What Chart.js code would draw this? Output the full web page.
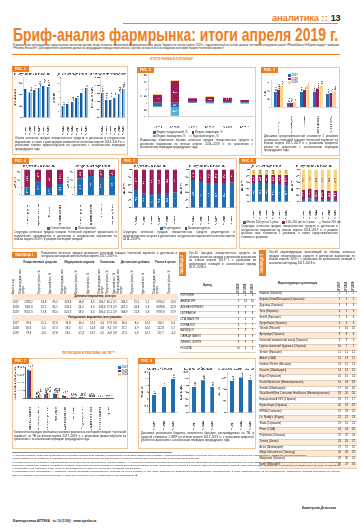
<!DOCTYPE html>
<html>
<head>
<meta charset="utf-8">
<script src="https://cdn.jsdelivr.net/npm/chart.js@4/dist/chart.umd.min.js"></script>
<style>
body{margin:0;width:360px;height:530px;position:relative;background:#fff;font-family:'Liberation Sans','DejaVu Sans',sans-serif;color:#222;overflow:hidden}
.a{position:absolute}
.box{position:absolute;border:1.2px solid #F4C59B;box-sizing:border-box;background:#fff}
.tag{position:absolute;left:-1px;top:-1px;background:#EE7D22;color:#fff;font-size:3.4px;font-weight:bold;padding:1.2px 3px;line-height:4px}
.vtag{position:absolute;background:#EE7D22;color:#fff;font-size:3.4px;font-weight:bold;writing-mode:vertical-rl;transform:rotate(180deg);text-align:center;line-height:7px}
.cap{position:absolute;font-size:2.9px;line-height:3.6px;color:#222;text-align:justify}
.cw{position:absolute}
.leg{position:absolute;font-size:2.8px;line-height:3.4px;white-space:nowrap}
.leg i{display:inline-block;width:2.6px;height:2.6px;margin:0 1px 0 3px;vertical-align:-0.3px}
table{border-collapse:collapse}
.t1 td{font-size:2.7px;line-height:5.2px;text-align:center;padding:0;white-space:nowrap}
.t1 .vh{writing-mode:vertical-rl;transform:rotate(180deg);height:29px;line-height:3px;white-space:normal;text-align:left}
.t1 .sec{background:#FCE6D3;font-weight:bold;line-height:5.6px}
.t1 .g{font-weight:bold;line-height:3.2px;white-space:normal;padding-bottom:1px}
.tr td{font-size:2.7px;line-height:4.9px;padding:0 0.5px;border-bottom:0.4px solid #e8cdb6;white-space:nowrap}
.tr td.n{text-align:center;width:6px}
.tr .vh{writing-mode:vertical-rl;transform:rotate(180deg);height:14px;line-height:6px;font-weight:bold;text-align:left}
.tr tr.alt td{background:#FCE9D8}
</style>
</head>
<body>
<script>
// ---- data ----
const fig1Years = ['IV 2014','IV 2015','IV 2016','IV 2017','IV 2018','IV 2019'];
const fig1Packs = [101.3, 88.1, 95.4, 102.2, 111.8, 106.5];
const fig1Uah = [3.4, 4.2, 4.8, 6.0, 7.4, 9.0];
const fig1Usd = [305.6, 218.4, 222.9, 248.7, 296.5, 357.4];

const fig2Years = ['IV 2014','IV 2015','IV 2016','IV 2017','IV 2018','IV 2019'];
const fig2Infl = [22.4, 62.3, 8.1, 10.2, 9.1, 4.3];
const fig2Rate = [4.1, 3.8, 1.2, 2.1, 2.0, 1.1];
const fig2Nat = [-8.2, -12.4, 4.6, 6.3, 5.8, 2.9];
const fig2Subst = [-4.1, -24.2, -1.1, -2.0, -1.8, -2.2];

const fig3Cats = ['Лекарственные средства','Медицинские изделия','Косметика','Диетические добавки','Рынок в целом'];
const fig3v2017 = [56.3, 14.8, 55.9, 57.2, 47.1];
const fig3v2018 = [64.6, 15.9, 62.0, 68.4, 51.5];
const fig3v2019 = [77.3, 18.0, 80.1, 76.5, 58.9];

const fig4Cats = ['Лекарственные средства','Медицинские изделия','Косметика','Диетические добавки'];
const fig4MoneyLocal = [30.2, 54.8, 27.6, 44.9];
const fig4PacksLocal = [64.9, 74.6, 69.8, 74.3];

const fig5Years = ['IV 2014','IV 2015','IV 2016','IV 2017','IV 2018','IV 2019'];
const fig5MoneyRx = [45.6, 36.9, 35.2, 35.8, 38.4, 40.1];
const fig5PacksRx = [72.8, 66.5, 65.1, 64.9, 65.3, 66.0];

const fig6Years = ['IV 2014','IV 2015','IV 2016','IV 2017','IV 2018','IV 2019'];
const fig6MoneyLow = [58.4, 60.2, 57.9, 56.1, 55.3, 52.6];
const fig6MoneyMid = [24.1, 22.5, 26.3, 27.4, 28.2, 30.1];
const fig6PacksLow = [9.1, 10.3, 8.7, 8.2, 7.9, 7.4];
const fig6PacksMid = [27.2, 30.4, 28.1, 27.5, 25.6, 24.8];

const fig7Cats = ['Лекарственные средства','Диетические добавки','Средства от кашля и простуды','Анальгетики','Средства для пищеварения','Витамины','Средства для кожи','Средства для горла','Кардиологические средства','Прочие'];
const fig7v2017 = [7350, 610, 1180, 1260, 780, 320, 330, 160, 90, 20];
const fig7v2018 = [7120, 820, 1340, 1190, 690, 280, 360, 190, 110, 25];
const fig7v2019 = [7600, 1050, 1420, 1310, 720, 300, 410, 150, 80, 40];

const fig8Years = ['IV 2017','IV 2018','IV 2019'];
const fig8Spend = [1.3, 1.9, 2.5];
const fig8Brands = [191, 238, 188];
const fig8Clips = [108, 121, 113];

const t1Groups = ['Лекарственные средства','Медицинские изделия','Косметика','Диетические добавки','Рынок в целом'];
const t1Sub = ['Объем продаж','Прирост/ убыль, %','Удельный вес, %'];
const t1Years = ['2017','2018','2019'];
const t1Money = [
  ['5783,2','24,8','85,5','423,8','14,8','6,3','206,7','40,1','3,1','346,5','15,1','5,1','6760,2','24,6'],
  ['7061,6','22,1','85,1','526,4','24,2','6,3','243,6','17,9','2,9','467,2','34,8','5,6','8298,8','22,8'],
  ['8317,0','17,8','85,0','621,3','18,0','6,3','280,4','15,1','2,9','568,9','21,8','5,8','9787,6','17,9']];
const t1Packs = [
  ['78,6','11,1','67,6','16,8','-16,1','14,5','4,4','17,9','3,8','16,4','8,4','14,1','116,2','6,4'],
  ['82,6','5,0','67,3','18,2','8,1','14,8','4,8','9,4','3,9','17,2','4,9','14,0','122,8','5,7'],
  ['79,8','-3,4','67,8','16,1','-11,3','13,7','4,5','-6,8','3,8','17,3','0,6','14,7','117,7','-4,2']];

const t2Brands = ['НУРОФЕН','АНАЛЬГИН','АЛЬФА НОРМИКС','ЦИТРАМОН','СПАЗМАЛГОН','КОРВАЛОЛ','ВАЛИДОЛ','ПАРАЦЕТАМОЛ','ЛИНЕКС ФОРТЕ','НО-ШПА'];
const t2r2019 = [1,2,3,4,5,6,7,8,9,10];
const t2r2018 = [1,14,5,8,2,7,3,6,9,4];
const t2r2017 = [3,10,4,8,5,7,1,9,6,2];

const t3Names = ['Фармак (Украина)','Берлин-Хеми/Менарини (Германия)','Дарница (Украина)','Teva (Израиль)','Sanofi (Франция)','КусумФарм (Украина)','Takeda (Япония)','Артериум (Украина)','Киевский витаминный завод (Украина)','Группа компаний Здоровье (Украина)','Servier (Франция)','Abbott (США)','Gedeon Richter (Венгрия)','Novartis (Швейцария)','Bayer (Германия)','Reckitt Benckiser (Великобритания)','Sandoz (Швейцария)','GlaxoSmithKline Consumer Healthcare (Великобритания)','Борщаговский ХФЗ (Украина)','Юрия-Фарм (Украина)','KRKA (Словения)','Dr. Reddy\'s (Индия)','Stada (Германия)','Pfizer (США)','Polpharma (Польша)','Zentiva (Чехия)','Acino (Швейцария)','Mega Lifesciences (Таиланд)','Микрохим (Украина)','Ipsen (Франция)'];
const t3r2017 = [1,2,3,4,5,6,7,8,9,10,11,12,13,14,15,16,17,18,19,20,21,22,23,24,25,26,27,28,29,30];
const t3r2018 = [1,2,3,5,6,4,10,8,9,7,11,13,12,14,15,18,16,20,17,19,23,22,21,24,25,26,27,28,30,29];
const t3r2019 = [1,2,3,5,4,6,10,8,9,7,12,11,13,15,14,18,16,20,17,19,22,23,21,26,24,27,25,29,31,30];

// ---- colours ----
const BLUE = '#1F6DB3', DBLUE = '#1A5A9A', LBLUE = '#8CC6EE', RED = '#9A1E55', YEL = '#F8D57C', TEAL = '#58ADD8', ORANGE = '#EE7D22';

// ---- layout helpers ----
function el(tag, cls, css, html){
  const e = document.createElement(tag);
  if(cls) e.className = cls;
  Object.assign(e.style, css||{});
  if(html !== undefined) e.innerHTML = html;
  document.body.appendChild(e);
  return e;
}
function px(o){const r={};for(const k in o){r[k]=typeof o[k]==='number'?o[k]+'px':o[k];}return r;}
function box(x,y,w,h,tag){
  const b = el('div','box',px({left:x,top:y,width:w,height:h}));
  if(tag){const t=document.createElement('div');t.className='tag';t.textContent=tag;b.appendChild(t);}
  return b;
}
function canvas(id,x,y,w,h){
  const d = el('div','cw',px({left:x,top:y,width:w,height:h}));
  const c = document.createElement('canvas'); c.id = id; d.appendChild(c);
  return c;
}
function cap(x,y,w,text){ return el('div','cap',px({left:x,top:y,width:w}),text); }
function legend(x,y,items,w){
  const html = items.map(([c,t])=>'<span><i style="background:'+c+'"></i>'+t+'</span>').join(' ');
  return el('div','leg',px({left:x,top:y,width:w||'auto'}),html);
}

// ---- chart setup ----
Chart.defaults.font.family = "'Liberation Sans','DejaVu Sans',sans-serif";
Chart.defaults.font.size = 3;
Chart.defaults.color = '#333';
Chart.defaults.animation = false;
Chart.defaults.responsive = true;
Chart.defaults.maintainAspectRatio = false;
Chart.defaults.devicePixelRatio = 3;
Chart.defaults.plugins.legend.display = false;
Chart.defaults.plugins.tooltip.enabled = false;

const valueLabels = {
  id:'valueLabels',
  afterDatasetsDraw(chart, args, opts){
    if(!opts || !opts.mode) return;
    const ctx = chart.ctx;
    ctx.save();
    ctx.font = (opts.size||2.6)+"px 'Liberation Sans',sans-serif";
    chart.data.datasets.forEach((ds,i)=>{
      const meta = chart.getDatasetMeta(i);
      meta.data.forEach((bar,j)=>{
        const v = ds.data[j];
        const s = String(v).replace('.',',');
        if(opts.mode==='above'){
          ctx.fillStyle = '#222';
          ctx.save();
          ctx.translate(bar.x+0.9, bar.y-0.8);
          ctx.rotate(-Math.PI/2);
          ctx.textAlign='left'; ctx.textBaseline='middle';
          ctx.fillText(s,0,0);
          ctx.restore();
        } else if(opts.mode==='inside'){
          const h = Math.abs(bar.base-bar.y);
          if(h<3) return;
          ctx.fillStyle = (ds.backgroundColor===YEL)?'#444':'#fff';
          ctx.save();
          ctx.translate(bar.x,(bar.y+bar.base)/2);
          if(opts.rotate) ctx.rotate(-Math.PI/2);
          ctx.textAlign='center'; ctx.textBaseline='middle';
          ctx.fillText(s,0,0);
          ctx.restore();
        }
      });
    });
    ctx.restore();
  }
};
Chart.register(valueLabels);

function xAxis(extra){
  return Object.assign({
    grid:{display:false},
    border:{color:'#666',width:0.5},
    ticks:{font:{size:2.7},color:'#333',padding:0.5,minRotation:90,maxRotation:90,autoSkip:false}
  },extra||{});
}
function yAxis(min,max,step,title,extra){
  return Object.assign({
    min:min,max:max,
    grid:{drawOnChartArea:false,tickLength:1.2,color:'#666',lineWidth:0.5},
    border:{color:'#666',width:0.5},
    ticks:{stepSize:step,font:{size:2.6},color:'#333',padding:0.4},
    title:{display:!!title,text:title,font:{size:2.8},padding:0.3,color:'#333'}
  },extra||{});
}
function titleOpt(t){
  return {display:!!t,text:t,font:{size:2.9,weight:'normal'},color:'#222',padding:{top:0,bottom:1.5}};
}
function barChart(id,labels,datasets,opts){
  return new Chart(document.getElementById(id),{
    type:'bar',
    data:{labels:labels,datasets:datasets},
    options:Object.assign({layout:{padding:{top:0.5,right:0.5,bottom:0,left:0}}},opts)
  });
}

// ---- header ----
el('div','a',px({left:272,top:11.5,fontSize:9.5,fontWeight:'bold',color:ORANGE,letterSpacing:-0.2,whiteSpace:'nowrap'}),'аналитика <span style="letter-spacing:0.3px">::</span> <span style="color:#222;font-size:9px;font-family:\'Liberation Sans Narrow\',sans-serif">13</span>');
el('div','a',px({left:123,top:23,width:215,height:0.6,background:'#9a9a9a'}));
const ttl = el('div','a',px({left:13,top:25,fontSize:19,lineHeight:'19px',fontWeight:'bold',color:ORANGE,whiteSpace:'nowrap',fontFamily:"'Liberation Sans Narrow','Liberation Sans',sans-serif",transformOrigin:'0 0'}),'Бриф-анализ фармрынка: итоги апреля 2019 г.');
ttl.style.transform = 'scaleX('+(325/ttl.offsetWidth)+')';
el('div','cap',px({left:13,top:43.5,width:326,fontSize:2.6,lineHeight:3.2}),'В рамках этой публикации мы представляем читателям краткий обзор основных показателей фармацевтического рынка Украины по итогам апреля 2019 г., подготовленный на основе данных системы исследования рынка «PharmXplorer»/«Фармстандарт» компании «Proxima Research». Для корректного сравнения данные за предыдущие периоды пересчитаны с учетом состава всех 4 исследуемых категорий товаров «аптечной корзины».');
el('div','a',px({left:12,top:53.5,width:328,height:0.8,background:ORANGE}));
el('div','a',px({left:150,top:56.5,fontSize:3,fontWeight:'bold',color:ORANGE,whiteSpace:'nowrap'}),'ИТОГИ РЫНКА В КОРЗИНАХ*');

// ---- Рис. 1 ----
box(12,66,116,89,'РИС. 1');
canvas('f1a',13,72,39,64); canvas('f1b',52,72,38,64); canvas('f1c',90,72,37,64);
const f1ds = (d)=>[{data:d,backgroundColor:DBLUE,borderColor:LBLUE,borderWidth:{right:1.4,left:0,top:0,bottom:0},borderSkipped:false,categoryPercentage:0.8,barPercentage:0.9}];
barChart('f1a',fig1Years,f1ds(fig1Packs),{plugins:{title:titleOpt('В натуральном выражении'),valueLabels:{mode:'above'}},scales:{x:xAxis(),y:yAxis(0,140,20,'Млн упаковок')}});
barChart('f1b',fig1Years,f1ds(fig1Uah),{plugins:{title:titleOpt('В денежном выражении'),valueLabels:{mode:'above'}},scales:{x:xAxis(),y:yAxis(0,12,1,'Млрд грн')}});
barChart('f1c',fig1Years,f1ds(fig1Usd),{plugins:{title:titleOpt('В долларовом эквиваленте'),valueLabels:{mode:'above'}},scales:{x:xAxis(),y:yAxis(0,500,50,'Млн долл. США')}});
cap(15,137,110,'Объем аптечных продаж лекарственных средств в денежном и натуральном выражении, а также в долларовом эквиваленте по итогам апреля 2014–2019 гг. с указанием темпов прироста/убыли по сравнению с аналогичным периодом предыдущего года');

// ---- Рис. 2 ----
box(137,67,119,89,'РИС. 2');
canvas('f2',139,73,115,57);
barChart('f2',fig2Years,[
  {label:'Индекс натуральный, %',data:fig2Nat,backgroundColor:BLUE,stack:'s'},
  {label:'Индекс инфляции, %',data:fig2Infl,backgroundColor:RED,stack:'s'},
  {label:'Индекс замещения, %',data:fig2Subst,backgroundColor:TEAL,stack:'s'},
  {label:'Курсовой индекс, %',data:fig2Rate,backgroundColor:YEL,stack:'s'}
].map(d=>Object.assign(d,{categoryPercentage:0.55,barPercentage:0.9})),{
  plugins:{valueLabels:{mode:'inside',size:2.4}},
  scales:{x:xAxis({stacked:true,ticks:{font:{size:2.7},color:'#333',padding:1,minRotation:0,maxRotation:0},grid:{display:false}}),
          y:yAxis(-40,80,20,'%',{stacked:true})}
});
legend(150,131,[[BLUE,'Индекс натуральный, %'],[RED,'Индекс инфляции, %']]);
legend(150,134.5,[[TEAL,'Индекс замещения, %'],[YEL,'Курсовой индекс, %']]);
cap(140,139,113,'Индикаторы изменения объема аптечных продаж лекарственных средств в денежном выражении по итогам апреля 2014–2019 гг. по сравнению с аналогичным периодом предыдущего года');

// ---- Рис. 3 ----
box(261,67,79,89,'РИС. 3');
canvas('f3',263,74,75,60);
barChart('f3',fig3Cats,[
  {label:'2017',data:fig3v2017,backgroundColor:BLUE},
  {label:'2018',data:fig3v2018,backgroundColor:RED},
  {label:'2019',data:fig3v2019,backgroundColor:YEL}
].map(d=>Object.assign(d,{categoryPercentage:0.75,barPercentage:0.9})),{
  layout:{padding:{top:6,right:0.5}},
  plugins:{valueLabels:{mode:'above',size:2.3}},
  scales:{x:xAxis(),y:yAxis(0,100,10,'Грн')}
});
el('div','leg',px({left:285,top:74}),'<div><i style="background:'+BLUE+'"></i>2017</div><div><i style="background:'+RED+'"></i>2018</div><div><i style="background:'+YEL+'"></i>2019</div>');
cap(264,135,74,'Динамика средневзвешенной стоимости 1 упаковки различных категорий товаров «аптечной корзины» по итогам апреля 2017–2019 гг. с указанием прироста/убыли по сравнению с аналогичным периодом предыдущего года');

// ---- Рис. 4 ----
box(12,158,107,91,'РИС. 4');
canvas('f4a',13,164,53,62); canvas('f4b',66,164,52,62);
const stack2 = (local,l1,l2)=>[
  {label:l1,data:local,backgroundColor:BLUE,categoryPercentage:0.7,barPercentage:0.75},
  {label:l2,data:local.map(v=>+(100-v).toFixed(1)),backgroundColor:RED,categoryPercentage:0.7,barPercentage:0.75}];
const pctY = ()=>yAxis(0,100,10,'Доля, %',{stacked:true});
barChart('f4a',fig4Cats,stack2(fig4MoneyLocal,'Отечественные','Иностранные'),{plugins:{title:titleOpt('В денежном выражении'),valueLabels:{mode:'inside',rotate:true,size:2.3}},scales:{x:xAxis({stacked:true}),y:pctY()}});
barChart('f4b',fig4Cats,stack2(fig4PacksLocal,'Отечественные','Иностранные'),{plugins:{title:titleOpt('В натуральном выражении'),valueLabels:{mode:'inside',rotate:true,size:2.3}},scales:{x:xAxis({stacked:true}),y:pctY()}});
legend(44,227,[[BLUE,'Отечественные'],[RED,'Иностранные']]);
cap(14,231,103,'Структура аптечных продаж товаров «аптечной корзины» украинского и зарубежного производства в денежном и натуральном выражении по итогам апреля 2019 г. в разрезе категорий товаров');

// ---- Рис. 5 ----
box(121,158,116,91,'РИС. 5');
canvas('f5a',122,164,57,62); canvas('f5b',179,164,57,62);
barChart('f5a',fig5Years,stack2(fig5MoneyRx,'Рецептурные','Безрецептурные'),{plugins:{title:titleOpt('В денежном выражении'),valueLabels:{mode:'inside',rotate:true,size:2.3}},scales:{x:xAxis({stacked:true}),y:pctY()}});
barChart('f5b',fig5Years,stack2(fig5PacksRx,'Рецептурные','Безрецептурные'),{plugins:{title:titleOpt('В натуральном выражении'),valueLabels:{mode:'inside',rotate:true,size:2.3}},scales:{x:xAxis({stacked:true}),y:pctY()}});
legend(157,227,[[BLUE,'Рецептурные'],[RED,'Безрецептурные']]);
cap(123,231,112,'Структура аптечных продаж лекарственных средств рецептурного и безрецептурного отпуска в денежном и натуральном выражении по итогам апреля 2014–2019 гг.');

// ---- Рис. 6 ----
box(239,158,101,91,'РИС. 6');
canvas('f6a',240,164,50,56); canvas('f6b',290,164,49,56);
const stack3 = (low,mid)=>[
  {label:'Низкий',data:low,backgroundColor:BLUE,categoryPercentage:0.7,barPercentage:0.75},
  {label:'Средний',data:mid,backgroundColor:RED,categoryPercentage:0.7,barPercentage:0.75},
  {label:'Высокий',data:low.map((v,i)=>+(100-v-mid[i]).toFixed(1)),backgroundColor:YEL,categoryPercentage:0.7,barPercentage:0.75}];
barChart('f6a',fig6Years,stack3(fig6MoneyLow,fig6MoneyMid),{plugins:{title:titleOpt('В денежном выражении'),valueLabels:{mode:'inside',rotate:true,size:2.3}},scales:{x:xAxis({stacked:true}),y:pctY()}});
barChart('f6b',fig6Years,stack3(fig6PacksLow,fig6PacksMid),{plugins:{title:titleOpt('В натуральном выражении'),valueLabels:{mode:'inside',rotate:true,size:2.3}},scales:{x:xAxis({stacked:true}),y:pctY()}});
legend(240,221,[[BLUE,'Менее 100 грн за 1 упак.'],[RED,'100–250 грн за 1 упак.'],[YEL,'Более 250 грн']]);
cap(241,225,97,'Структура аптечных продаж лекарственных средств в денежном и натуральном выражении по итогам апреля 2014–2019 гг. в разрезе ценовых ниш стоимости 1 упаковки, а также средневзвешенная стоимость упаковки');

// ---- Таблица 1 ----
el('div','a',px({left:12,top:251.5,background:ORANGE,color:'#fff',fontSize:3.3,fontWeight:'bold',padding:'1.2px 3px',lineHeight:'4px'}),'ТАБЛИЦА 1');
cap(41,251.5,136,'Показатели аптечных продаж различных категорий товаров «аптечной корзины» в денежном и натуральном выражении по итогам апреля 2017–2019 гг.');
(function(){
  let h = '<table class="t1" style="width:166px"><tr><td></td>';
  t1Groups.forEach((g,i)=>{h+='<td class="g" colspan="'+(i<4?3:2)+'">'+g+'</td>';});
  h+='</tr><tr><td><div class="vh">Апрель, год</div></td>';
  t1Groups.forEach((g,i)=>{(i<4?t1Sub:t1Sub.slice(0,2)).forEach((s,k)=>{h+='<td><div class="vh">'+(k===0?(s+', млн грн/уп.'):s)+'</div></td>';});});
  h+='</tr><tr><td class="sec" colspan="15">Денежное выражение, млн грн</td></tr>';
  t1Money.forEach((r,i)=>{h+='<tr><td>'+t1Years[i]+'</td>'+r.map(v=>'<td>'+v+'</td>').join('')+'</tr>';});
  h+='<tr><td class="sec" colspan="15">Натуральное выражение, млн упаковок</td></tr>';
  t1Packs.forEach((r,i)=>{h+='<tr><td>'+t1Years[i]+'</td>'+r.map(v=>'<td>'+v+'</td>').join('')+'</tr>';});
  h+='</table>';
  el('div','a',px({left:12,top:261}),h);
})();

// ---- Таблица 2 ----
el('div','vtag',px({left:179,top:252,width:7,height:24}),'ТАБЛИЦА 2');
cap(189,252,67,'Топ-10 брендов лекарственных средств по объему аптечных продаж в денежном выражении по итогам апреля 2019 г. с указанием их рейтинговых позиций в аналогичный период 2017–2018 гг.');
(function(){
  let h = '<table class="tr" style="width:76px"><tr><td style="text-align:center;font-weight:bold;border-bottom:0.6px solid #999">Бренд</td><td class="n" style="border-bottom:0.6px solid #999"><div class="vh">IV 2019</div></td><td class="n" style="border-bottom:0.6px solid #999"><div class="vh">IV 2018</div></td><td class="n" style="border-bottom:0.6px solid #999"><div class="vh">IV 2017</div></td></tr>';
  t2Brands.forEach((b,i)=>{h+='<tr><td>'+b+'</td><td class="n">'+t2r2019[i]+'</td><td class="n">'+t2r2018[i]+'</td><td class="n">'+t2r2017[i]+'</td></tr>';});
  h+='</table>';
  el('div','a',px({left:180,top:279}),h);
})();

// ---- Таблица 3 ----
el('div','vtag',px({left:259,top:250,width:7,height:26}),'ТАБЛИЦА 3');
cap(269,251,86,'Топ-30 маркетирующих организаций по объему аптечных продаж лекарственных средств в денежном выражении по итогам апреля 2019 г. с указанием их рейтинговых позиций в аналогичный период 2017–2018 гг.');
(function(){
  let h = '<table class="tr" style="width:98px"><tr><td style="text-align:center;font-weight:bold;border-bottom:0.6px solid #999">Маркетирующая организация</td><td class="n" style="border-bottom:0.6px solid #999"><div class="vh">IV 2017</div></td><td class="n" style="border-bottom:0.6px solid #999"><div class="vh">IV 2018</div></td><td class="n" style="border-bottom:0.6px solid #999"><div class="vh">IV 2019</div></td></tr>';
  t3Names.forEach((b,i)=>{h+='<tr'+(i%2?' class="alt"':'')+'><td style="white-space:normal;line-height:2.9px;padding:0.6px 0.5px">'+b+'</td><td class="n">'+t3r2017[i]+'</td><td class="n">'+t3r2018[i]+'</td><td class="n">'+t3r2019[i]+'</td></tr>';});
  h+='</table>';
  el('div','a',px({left:259,top:277}),h);
})();

// ---- Промоция ----
el('div','a',px({left:62,top:350.5,fontSize:3.2,fontWeight:'bold',color:ORANGE,whiteSpace:'nowrap'}),'ПРОМОЦИЯ И РЕКЛАМА НА ТВ***');

// ---- Рис. 7 ----
box(12,358,116,91,'РИС. 7');
canvas('f7',13,364,114,66);
barChart('f7',fig7Cats,[
  {label:'2017',data:fig7v2017,backgroundColor:BLUE},
  {label:'2018',data:fig7v2018,backgroundColor:RED},
  {label:'2019',data:fig7v2019,backgroundColor:YEL}
].map(d=>Object.assign(d,{categoryPercentage:0.7,barPercentage:0.9})),{
  layout:{padding:{top:3,right:14}},
  plugins:{valueLabels:{mode:'above',size:2.2}},
  scales:{x:xAxis({ticks:{font:{size:2.5},color:'#333',padding:0.5,minRotation:90,maxRotation:90,autoSkip:false}}),y:yAxis(0,8000,1000,'Количество выходов, тыс.')}
});
el('div','leg',px({left:115,top:366}),'<div><i style="background:'+BLUE+'"></i>2017</div><div><i style="background:'+RED+'"></i>2018</div><div><i style="background:'+YEL+'"></i>2019</div>');
cap(14,431,112,'Количество выходов рекламных роликов различных категорий товаров «аптечной корзины» на ТВ по итогам апреля 2017–2019 гг. с указанием прироста/убыли по сравнению с аналогичным периодом предыдущего года');

// ---- Рис. 8 ----
box(138,358,118,91,'РИС. 8');
canvas('f8a',140,364,38,67); canvas('f8b',179,364,38,67); canvas('f8c',217,364,38,67);
const f8ds = d=>[{data:d,backgroundColor:BLUE,categoryPercentage:0.7,barPercentage:0.6}];
barChart('f8a',fig8Years,f8ds(fig8Spend),{layout:{padding:{top:3}},plugins:{title:titleOpt('Рекламный бюджет'),valueLabels:{mode:'above'}},scales:{x:xAxis(),y:yAxis(0,3,0.5,'Млрд грн')}});
barChart('f8b',fig8Years,f8ds(fig8Brands),{layout:{padding:{top:3}},plugins:{title:titleOpt('Количество брендов'),valueLabels:{mode:'above'}},scales:{x:xAxis(),y:yAxis(0,300,50,'Количество')}});
barChart('f8c',fig8Years,f8ds(fig8Clips),{layout:{padding:{top:3}},plugins:{title:titleOpt('Стоимость 1 GRP, тыс. грн'),valueLabels:{mode:'above'}},scales:{x:xAxis(),y:yAxis(0,140,20,'Тыс. грн')}});
cap(141,432,113,'Динамика рекламного бюджета, количества брендов, рекламируемых на ТВ, и средней стоимости 1 GRP по итогам апреля 2017–2019 гг. с указанием прироста/убыли по сравнению с аналогичным периодом предыдущего года');

// ---- footnotes ----
el('div','a',px({left:12,top:452,width:160,height:0.5,background:'#888'}));
el('div','cap',px({left:12,top:454,width:328,fontSize:2.5,lineHeight:3.3}),
'*«Аптечная корзина» включает лекарственные средства, медицинские изделия, косметические средства и диетические добавки. Анализ продаж проводится на основе данных системы исследования рынка «PharmXplorer» компании «Proxima Research».<br>'+
'**Средневзвешенная стоимость 1 упаковки рассчитывается как отношение объема продаж в денежном выражении к объему продаж в натуральном выражении.<br>'+
'***Анализ данных по рекламе на ТВ проводится на основе данных мониторинга «Nielsen Ukraine», с учетом всех каналов. Рекламный бюджет рассчитан по официальным расценкам телеканалов без учета скидок. Средняя стоимость 1 GRP рассчитана как отношение рекламного бюджета к суммарному рейтингу рекламных роликов. Количество выходов рекламных роликов включает трансляции на всех национальных каналах и в регионах. Данные по категориям товаров «аптечной корзины» приведены с учетом всех рекламируемых брендов, относящихся к соответствующей категории, в том числе не представленных в аптечных продажах в анализируемый период.<br>'+
'****Маркетирующая организация — компания, которая продвигает лекарственное средство на рынке Украины, в том числе является его владельцем регистрационного удостоверения, и несет ответственность за его продвижение. Рейтинговые позиции рассчитаны по объему аптечных продаж в денежном выражении с учетом всех дочерних структур маркетирующей организации. ■');
el('div','a',px({left:302,top:506,fontSize:3.2,fontWeight:'bold',fontStyle:'italic',whiteSpace:'nowrap'}),'Екатерина Денисова');
el('div','a',px({left:13,top:518.5,fontSize:3.2,fontWeight:'bold',whiteSpace:'nowrap'}),'Еженедельник АПТЕКА · № 19 (1190) · www.apteka.ua');
</script>
</body>
</html>
